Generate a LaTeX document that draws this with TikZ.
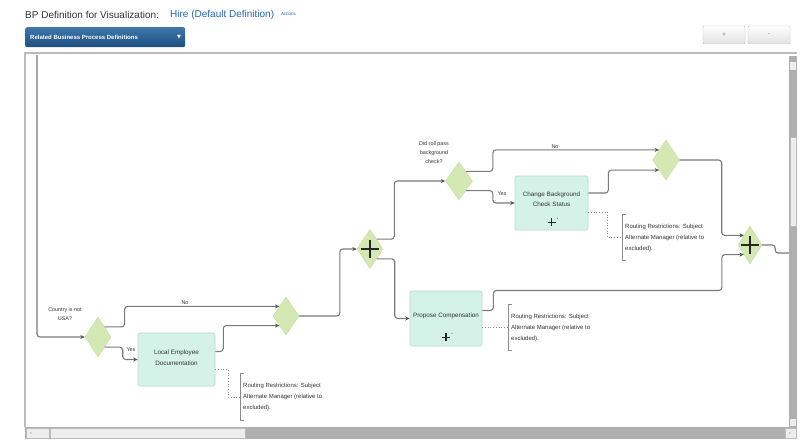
\documentclass[tikz,border=0pt]{standalone}
\usepackage{fontspec}
\setmainfont{Liberation Sans}
\newfontfamily\symfont{DejaVu Sans}
\usetikzlibrary{shapes.geometric,arrows.meta,calc}
\definecolor{gwfill}{HTML}{D3E8B2}
\definecolor{gwdraw}{HTML}{C4DCA0}
\definecolor{taskfill}{HTML}{D4F2E7}
\definecolor{taskdraw}{HTML}{B9D9CD}
\definecolor{flowc}{HTML}{7A7A7A}
\definecolor{tipc}{HTML}{555555}
\definecolor{textc}{HTML}{333333}
\definecolor{dotc}{HTML}{8A8A8A}
\definecolor{linkc}{HTML}{2266B0}
\definecolor{btntop}{HTML}{3F78AD}
\definecolor{btnbot}{HTML}{1D4E7E}
\definecolor{framec}{HTML}{BBBBBB}
\definecolor{sbdark}{HTML}{AFAFAF}
\definecolor{sblight}{HTML}{EDEDED}
\begin{document}
\begin{tikzpicture}[x=1pt,y=-1pt,
  flow/.style={draw=flowc, line width=1.1pt, rounded corners=3pt,
    -{Stealth[length=4.5pt,width=4pt,color=tipc]}},
  flowline/.style={draw=flowc, line width=1.1pt, rounded corners=3pt},
  gw/.style={diamond, fill=gwfill, draw=gwdraw, line width=0.4pt, inner sep=0pt},
  task/.style={rectangle, rounded corners=2pt, fill=taskfill, draw=taskdraw,
    line width=0.6pt, inner sep=0pt},
  tasktext/.style={align=center, font=\fontsize{6.3}{10.5}\selectfont, text=textc, inner sep=0pt},
  note/.style={align=left, font=\fontsize{6}{11}\selectfont, inner xsep=3pt,
    inner ysep=0pt, minimum height=46pt, anchor=west, text=textc},
  lbl/.style={font=\fontsize{5.4}{9}\selectfont, text=textc, inner sep=0pt, align=center},
  annot/.style={draw=dotc, line width=0.7pt, dotted},
  brk/.style={draw=dotc, line width=0.7pt},
  btn/.style={draw=framec, top color=white, bottom color=black!12, rounded corners=1pt,
    minimum width=42pt, minimum height=18pt, inner sep=0pt,
    font=\fontsize{6}{6}\selectfont, text=black!60}
]
\useasboundingbox[fill=white] (0,0) rectangle (807,441);

% header
\node[anchor=west, inner sep=0pt, font=\fontsize{10}{12}\selectfont, text=textc] (title) at (25,15) {BP Definition for Visualization:};
\node[anchor=west, inner sep=0pt, font=\fontsize{10}{12}\selectfont, text=linkc] (hire) at (170,15) {Hire (Default Definition)};
\node[anchor=west, inner sep=0pt, font=\fontsize{4.5}{5}\selectfont, text=linkc] (act) at (281,14) {Actions};
\node[anchor=north west, rounded corners=2pt, top color=btntop, bottom color=btnbot,
  minimum width=160pt, minimum height=20pt, inner sep=0pt] (rbp) at (25,27) {};
\node[anchor=west, inner sep=0pt, text=white, font=\bfseries\fontsize{6}{7}\selectfont] (rbpt) at (30,37) {Related Business Process Definitions};
\node[inner sep=0pt, text=white, font=\symfont\fontsize{5}{6}\selectfont] (rbpa) at (179,37) {▼};
\node[btn] (zin) at (724,35) {+};
\node[btn] (zout) at (769,35) {-};

% frame and scrollbars
\draw[framec, line width=1.2pt] (25,427) -- (25,53) -- (797,53);
\fill[sbdark] (789,56) rectangle (797,427);
\fill[sblight] (790,62) rectangle (796,70);
\draw[framec, fill=sblight] (790,137) rectangle (796,226);
\fill[sblight] (790,419) rectangle (796,426);
\fill[sbdark] (25,427) rectangle (797,439);
\draw[framec, fill=sblight] (26,428) rectangle (49,438);
\draw[framec, fill=sblight] (50,428) rectangle (245,438);
\draw[framec, fill=sblight] (785,428) rectangle (796,438);
\node[font=\fontsize{3.5}{4}\selectfont, text=black!60, inner sep=0pt] (sbl) at (31,433) {<};
\node[font=\fontsize{3.5}{4}\selectfont, text=black!60, inner sep=0pt] (sbr) at (790,433) {>};

% gateways
\node[gw, minimum width=26pt, minimum height=40pt] (g1) at (98,337) {};
\node[gw, minimum width=26pt, minimum height=38pt] (g2) at (286,316) {};
\node[gw, minimum width=26pt, minimum height=39pt] (p1) at (370,249) {};
\node[gw, minimum width=27pt, minimum height=38pt] (g3) at (459,181) {};
\node[gw, minimum width=27pt, minimum height=40pt] (g4) at (666,160) {};
\node[gw, minimum width=24pt, minimum height=38pt] (p2) at (750,245) {};
\foreach \p in {p1,p2}{
  \draw[line width=2.3pt, black!85] ($(\p)+(-9,0)$) -- ($(\p)+(9,0)$) ($(\p)+(0,-9)$) -- ($(\p)+(0,9)$);
}

% tasks
\node[task, minimum width=77pt, minimum height=53pt] (t1) at (176.5,359.5) {};
\node[tasktext] (t1t) at ($(t1)+(0,-2)$) {Local Employee\\Documentation};
\node[task, minimum width=73pt, minimum height=54pt] (t2) at (551.5,203) {};
\node[tasktext] (t2t) at ($(t2)+(0,-4)$) {Change Background\\Check Status};
\node[task, minimum width=72pt, minimum height=55pt] (t3) at (446,318.5) {};
\node[tasktext] (t3t) at ($(t3)+(0,-3)$) {Propose Compensation};
\foreach \t/\d in {t2/8,t3/9}{
  \draw[line width=1.3pt, black!85] ($(\t.south)+(-4,-\d)$) -- ($(\t.south)+(4,-\d)$)
    ($(\t.south)+(0,-\d-4)$) -- ($(\t.south)+(0,-\d+4)$);
  \fill[black!50] ($(\t.south)+(6,-\d-4)$) circle (0.6pt);
}

% labels
\node[lbl] (l1) at (65,314) {Country is not\\USA?};
\node[lbl] (l2) at (434,153) {Did roll pass\\background\\check?};
\node[lbl] (no1) at (185,303) {No};
\node[lbl] (yes1) at (131,350) {Yes};
\node[lbl] (no2) at (555,147) {No};
\node[lbl] (yes2) at (502,194) {Yes};

% flows
\coordinate (start) at (37,55);
\draw[flow] (start) |- (g1.west);
\draw[flow] (g1.north east) -- ++(20,0) |- (g2.north west);
\draw[flow] (g1.south east) -| ($(t1.west)+(-15,0)$) -- (t1.west);
\draw[flow] ($(t1.east)+(0,-8)$) -- ++(8,0) |- (g2.south west);
\draw[flow] (g2.east) -| ($(p1.west)+(-17,0)$) -- (p1.west);
\draw[flow] (p1.north east) -| ($(g3.west)+(-51,0)$) -- (g3.west);
\draw[flow] (p1.south east) -| ($(t3.west)+(-15,0)$) -- (t3.west);
\draw[flow] (g3.north east) -- ++(27,0) |- (g4.north west);
\draw[flow] (g3.south east) -- ++(27,0) |- (t2.west);
\draw[flow] ($(t2.east)+(0,-10)$) -- ++(20,0) |- (g4.south west);
\draw[flow] (g4.east) -- ++(42,0) |- (p2.north west);
\draw[flow] ($(t3.east)+(0,-8)$) -- ++(11,0) -- ++(0,-20) -| ($(p2.south west)+(-22,0)$) -- (p2.south west);
\coordinate (pend) at (789,253);
\draw[flowline] (p2.east) -- ++(13,0) |- (pend);

% annotations
\node[note] (a1) at (240,397) {Routing Restrictions: Subject\\Alternate Manager (relative to\\excluded).};
\node[note] (a2) at (622,237.5) {Routing Restrictions: Subject\\Alternate Manager (relative to\\excluded).};
\node[note] (a3) at (508,327.5) {Routing Restrictions: Subject\\Alternate Manager (relative to\\excluded).};
\foreach \a in {a1,a2,a3}{
  \draw[brk] ($(\a.north west)+(4,0)$) -- (\a.north west) -- (\a.south west) -- ++(4,0);
}
\draw[annot] ($(t1.east)+(0,10)$) -- ++(13,0) |- (a1.west);
\draw[annot] ($(t2.east)+(0,9)$) -- ++(19,0) |- (a2.west);
\draw[annot] ($(t3.east)+(0,9)$) -- (a3.west);
\end{tikzpicture}
\end{document}
